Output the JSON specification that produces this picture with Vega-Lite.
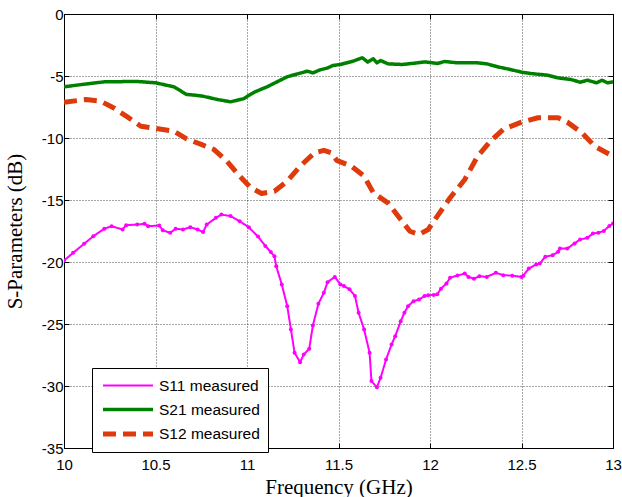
{
  "$schema": "https://vega.github.io/schema/vega-lite/v6.json",
  "autosize": {"type": "none"},
  "width": 549,
  "height": 434,
  "padding": {"left": 64, "top": 14, "right": 9, "bottom": 49},
  "background": "white",
  "config": {
    "view": {"stroke": "black", "strokeWidth": 1},
    "axis": {
      "domain": false,
      "grid": true,
      "gridColor": "#000000",
      "gridOpacity": 0.7,
      "gridDash": [1, 2],
      "gridWidth": 1,
      "ticks": true,
      "tickColor": "black",
      "tickSize": -5,
      "labelFont": "Liberation Sans",
      "labelFontSize": 15,
      "labelColor": "black",
      "labelFlush": false,
      "labelOverlap": false,
      "titleFont": "Liberation Serif",
      "titleFontSize": 21,
      "titleFontWeight": "normal",
      "titleColor": "black"
    },
    "legend": {
      "orient": "none",
      "legendX": 28,
      "legendY": 354,
      "strokeColor": "black",
      "fillColor": "white",
      "padding": 8,
      "rowPadding": 5,
      "symbolType": "M-3,0H3",
      "symbolSize": 278,
      "symbolOffset": 17,
      "labelOffset": 20,
      "labelFont": "Liberation Sans",
      "labelFontSize": 15.5,
      "labelColor": "black",
      "title": null
    }
  },
  "data": {
    "values": [
      {"f": 10.00, "db": -19.88, "s": "S11 measured"},
      {"f": 10.05, "db": -19.26, "s": "S11 measured"},
      {"f": 10.11, "db": -18.53, "s": "S11 measured"},
      {"f": 10.16, "db": -17.92, "s": "S11 measured"},
      {"f": 10.22, "db": -17.32, "s": "S11 measured"},
      {"f": 10.26, "db": -17.11, "s": "S11 measured"},
      {"f": 10.32, "db": -17.38, "s": "S11 measured"},
      {"f": 10.34, "db": -17.03, "s": "S11 measured"},
      {"f": 10.40, "db": -16.98, "s": "S11 measured"},
      {"f": 10.44, "db": -16.92, "s": "S11 measured"},
      {"f": 10.46, "db": -17.11, "s": "S11 measured"},
      {"f": 10.52, "db": -17.06, "s": "S11 measured"},
      {"f": 10.54, "db": -17.44, "s": "S11 measured"},
      {"f": 10.58, "db": -17.65, "s": "S11 measured"},
      {"f": 10.61, "db": -17.32, "s": "S11 measured"},
      {"f": 10.65, "db": -17.38, "s": "S11 measured"},
      {"f": 10.69, "db": -17.19, "s": "S11 measured"},
      {"f": 10.73, "db": -17.38, "s": "S11 measured"},
      {"f": 10.76, "db": -17.59, "s": "S11 measured"},
      {"f": 10.78, "db": -16.98, "s": "S11 measured"},
      {"f": 10.83, "db": -16.44, "s": "S11 measured"},
      {"f": 10.86, "db": -16.17, "s": "S11 measured"},
      {"f": 10.91, "db": -16.30, "s": "S11 measured"},
      {"f": 10.96, "db": -16.72, "s": "S11 measured"},
      {"f": 11.01, "db": -17.20, "s": "S11 measured"},
      {"f": 11.06, "db": -17.95, "s": "S11 measured"},
      {"f": 11.10, "db": -18.70, "s": "S11 measured"},
      {"f": 11.13, "db": -19.20, "s": "S11 measured"},
      {"f": 11.15, "db": -19.54, "s": "S11 measured"},
      {"f": 11.16, "db": -20.35, "s": "S11 measured"},
      {"f": 11.19, "db": -21.81, "s": "S11 measured"},
      {"f": 11.22, "db": -23.56, "s": "S11 measured"},
      {"f": 11.24, "db": -25.44, "s": "S11 measured"},
      {"f": 11.26, "db": -27.32, "s": "S11 measured"},
      {"f": 11.29, "db": -28.08, "s": "S11 measured"},
      {"f": 11.31, "db": -27.46, "s": "S11 measured"},
      {"f": 11.34, "db": -27.00, "s": "S11 measured"},
      {"f": 11.36, "db": -25.12, "s": "S11 measured"},
      {"f": 11.39, "db": -23.37, "s": "S11 measured"},
      {"f": 11.42, "db": -22.48, "s": "S11 measured"},
      {"f": 11.44, "db": -21.63, "s": "S11 measured"},
      {"f": 11.48, "db": -21.20, "s": "S11 measured"},
      {"f": 11.51, "db": -21.81, "s": "S11 measured"},
      {"f": 11.53, "db": -21.94, "s": "S11 measured"},
      {"f": 11.56, "db": -22.20, "s": "S11 measured"},
      {"f": 11.59, "db": -22.74, "s": "S11 measured"},
      {"f": 11.61, "db": -24.10, "s": "S11 measured"},
      {"f": 11.64, "db": -25.44, "s": "S11 measured"},
      {"f": 11.67, "db": -27.32, "s": "S11 measured"},
      {"f": 11.68, "db": -29.60, "s": "S11 measured"},
      {"f": 11.71, "db": -30.10, "s": "S11 measured"},
      {"f": 11.73, "db": -29.34, "s": "S11 measured"},
      {"f": 11.76, "db": -27.86, "s": "S11 measured"},
      {"f": 11.79, "db": -26.65, "s": "S11 measured"},
      {"f": 11.81, "db": -25.98, "s": "S11 measured"},
      {"f": 11.84, "db": -24.77, "s": "S11 measured"},
      {"f": 11.86, "db": -24.10, "s": "S11 measured"},
      {"f": 11.88, "db": -23.56, "s": "S11 measured"},
      {"f": 11.91, "db": -23.16, "s": "S11 measured"},
      {"f": 11.94, "db": -23.02, "s": "S11 measured"},
      {"f": 11.97, "db": -22.74, "s": "S11 measured"},
      {"f": 11.99, "db": -22.68, "s": "S11 measured"},
      {"f": 12.02, "db": -22.66, "s": "S11 measured"},
      {"f": 12.04, "db": -22.60, "s": "S11 measured"},
      {"f": 12.06, "db": -22.15, "s": "S11 measured"},
      {"f": 12.09, "db": -21.73, "s": "S11 measured"},
      {"f": 12.11, "db": -21.27, "s": "S11 measured"},
      {"f": 12.15, "db": -21.09, "s": "S11 measured"},
      {"f": 12.19, "db": -20.93, "s": "S11 measured"},
      {"f": 12.21, "db": -21.20, "s": "S11 measured"},
      {"f": 12.24, "db": -21.35, "s": "S11 measured"},
      {"f": 12.27, "db": -21.14, "s": "S11 measured"},
      {"f": 12.31, "db": -21.20, "s": "S11 measured"},
      {"f": 12.36, "db": -20.87, "s": "S11 measured"},
      {"f": 12.40, "db": -21.06, "s": "S11 measured"},
      {"f": 12.45, "db": -21.10, "s": "S11 measured"},
      {"f": 12.50, "db": -21.20, "s": "S11 measured"},
      {"f": 12.51, "db": -21.10, "s": "S11 measured"},
      {"f": 12.54, "db": -20.52, "s": "S11 measured"},
      {"f": 12.58, "db": -20.20, "s": "S11 measured"},
      {"f": 12.60, "db": -20.12, "s": "S11 measured"},
      {"f": 12.63, "db": -19.58, "s": "S11 measured"},
      {"f": 12.67, "db": -19.45, "s": "S11 measured"},
      {"f": 12.70, "db": -19.18, "s": "S11 measured"},
      {"f": 12.71, "db": -18.91, "s": "S11 measured"},
      {"f": 12.75, "db": -18.91, "s": "S11 measured"},
      {"f": 12.79, "db": -18.50, "s": "S11 measured"},
      {"f": 12.82, "db": -18.19, "s": "S11 measured"},
      {"f": 12.86, "db": -18.05, "s": "S11 measured"},
      {"f": 12.89, "db": -17.70, "s": "S11 measured"},
      {"f": 12.92, "db": -17.65, "s": "S11 measured"},
      {"f": 12.95, "db": -17.49, "s": "S11 measured"},
      {"f": 12.98, "db": -17.09, "s": "S11 measured"},
      {"f": 13.00, "db": -16.90, "s": "S11 measured"},

      {"f": 10.00, "db": -5.87, "s": "S21 measured"},
      {"f": 10.10, "db": -5.68, "s": "S21 measured"},
      {"f": 10.22, "db": -5.47, "s": "S21 measured"},
      {"f": 10.40, "db": -5.44, "s": "S21 measured"},
      {"f": 10.50, "db": -5.55, "s": "S21 measured"},
      {"f": 10.60, "db": -5.87, "s": "S21 measured"},
      {"f": 10.67, "db": -6.49, "s": "S21 measured"},
      {"f": 10.72, "db": -6.55, "s": "S21 measured"},
      {"f": 10.76, "db": -6.63, "s": "S21 measured"},
      {"f": 10.84, "db": -6.90, "s": "S21 measured"},
      {"f": 10.91, "db": -7.08, "s": "S21 measured"},
      {"f": 10.98, "db": -6.84, "s": "S21 measured"},
      {"f": 11.04, "db": -6.30, "s": "S21 measured"},
      {"f": 11.11, "db": -5.87, "s": "S21 measured"},
      {"f": 11.22, "db": -5.06, "s": "S21 measured"},
      {"f": 11.33, "db": -4.61, "s": "S21 measured"},
      {"f": 11.36, "db": -4.75, "s": "S21 measured"},
      {"f": 11.40, "db": -4.50, "s": "S21 measured"},
      {"f": 11.44, "db": -4.35, "s": "S21 measured"},
      {"f": 11.47, "db": -4.15, "s": "S21 measured"},
      {"f": 11.51, "db": -4.07, "s": "S21 measured"},
      {"f": 11.58, "db": -3.80, "s": "S21 measured"},
      {"f": 11.63, "db": -3.53, "s": "S21 measured"},
      {"f": 11.66, "db": -3.88, "s": "S21 measured"},
      {"f": 11.69, "db": -3.61, "s": "S21 measured"},
      {"f": 11.71, "db": -3.94, "s": "S21 measured"},
      {"f": 11.73, "db": -3.75, "s": "S21 measured"},
      {"f": 11.77, "db": -4.02, "s": "S21 measured"},
      {"f": 11.85, "db": -4.07, "s": "S21 measured"},
      {"f": 11.93, "db": -3.94, "s": "S21 measured"},
      {"f": 11.97, "db": -3.86, "s": "S21 measured"},
      {"f": 12.04, "db": -3.99, "s": "S21 measured"},
      {"f": 12.08, "db": -3.83, "s": "S21 measured"},
      {"f": 12.15, "db": -3.94, "s": "S21 measured"},
      {"f": 12.26, "db": -3.94, "s": "S21 measured"},
      {"f": 12.31, "db": -4.02, "s": "S21 measured"},
      {"f": 12.37, "db": -4.26, "s": "S21 measured"},
      {"f": 12.44, "db": -4.48, "s": "S21 measured"},
      {"f": 12.50, "db": -4.69, "s": "S21 measured"},
      {"f": 12.55, "db": -4.80, "s": "S21 measured"},
      {"f": 12.64, "db": -4.93, "s": "S21 measured"},
      {"f": 12.70, "db": -5.15, "s": "S21 measured"},
      {"f": 12.77, "db": -5.28, "s": "S21 measured"},
      {"f": 12.82, "db": -5.50, "s": "S21 measured"},
      {"f": 12.86, "db": -5.34, "s": "S21 measured"},
      {"f": 12.91, "db": -5.55, "s": "S21 measured"},
      {"f": 12.94, "db": -5.34, "s": "S21 measured"},
      {"f": 12.97, "db": -5.55, "s": "S21 measured"},
      {"f": 13.00, "db": -5.47, "s": "S21 measured"},

      {"f": 10.00, "db": -7.11, "s": "S12 measured"},
      {"f": 10.12, "db": -6.90, "s": "S12 measured"},
      {"f": 10.20, "db": -7.03, "s": "S12 measured"},
      {"f": 10.27, "db": -7.56, "s": "S12 measured"},
      {"f": 10.34, "db": -8.24, "s": "S12 measured"},
      {"f": 10.42, "db": -9.05, "s": "S12 measured"},
      {"f": 10.50, "db": -9.23, "s": "S12 measured"},
      {"f": 10.60, "db": -9.45, "s": "S12 measured"},
      {"f": 10.67, "db": -10.07, "s": "S12 measured"},
      {"f": 10.75, "db": -10.52, "s": "S12 measured"},
      {"f": 10.82, "db": -10.93, "s": "S12 measured"},
      {"f": 10.89, "db": -11.87, "s": "S12 measured"},
      {"f": 10.96, "db": -13.08, "s": "S12 measured"},
      {"f": 11.02, "db": -14.00, "s": "S12 measured"},
      {"f": 11.08, "db": -14.48, "s": "S12 measured"},
      {"f": 11.15, "db": -14.29, "s": "S12 measured"},
      {"f": 11.22, "db": -13.48, "s": "S12 measured"},
      {"f": 11.29, "db": -12.27, "s": "S12 measured"},
      {"f": 11.37, "db": -11.19, "s": "S12 measured"},
      {"f": 11.42, "db": -11.00, "s": "S12 measured"},
      {"f": 11.46, "db": -11.19, "s": "S12 measured"},
      {"f": 11.49, "db": -11.80, "s": "S12 measured"},
      {"f": 11.57, "db": -12.27, "s": "S12 measured"},
      {"f": 11.64, "db": -13.08, "s": "S12 measured"},
      {"f": 11.69, "db": -14.42, "s": "S12 measured"},
      {"f": 11.77, "db": -15.23, "s": "S12 measured"},
      {"f": 11.84, "db": -16.57, "s": "S12 measured"},
      {"f": 11.89, "db": -17.52, "s": "S12 measured"},
      {"f": 11.94, "db": -17.78, "s": "S12 measured"},
      {"f": 11.99, "db": -17.38, "s": "S12 measured"},
      {"f": 12.04, "db": -16.30, "s": "S12 measured"},
      {"f": 12.11, "db": -14.82, "s": "S12 measured"},
      {"f": 12.19, "db": -13.35, "s": "S12 measured"},
      {"f": 12.26, "db": -11.47, "s": "S12 measured"},
      {"f": 12.33, "db": -10.26, "s": "S12 measured"},
      {"f": 12.40, "db": -9.31, "s": "S12 measured"},
      {"f": 12.50, "db": -8.72, "s": "S12 measured"},
      {"f": 12.59, "db": -8.37, "s": "S12 measured"},
      {"f": 12.70, "db": -8.37, "s": "S12 measured"},
      {"f": 12.75, "db": -8.72, "s": "S12 measured"},
      {"f": 12.83, "db": -9.58, "s": "S12 measured"},
      {"f": 12.90, "db": -10.66, "s": "S12 measured"},
      {"f": 13.00, "db": -11.47, "s": "S12 measured"}
    ]
  },
  "layer": [
    {
      "mark": {"type": "line", "clip": true, "strokeCap": "butt", "strokeJoin": "round"},
      "encoding": {
        "x": {
          "field": "f", "type": "quantitative",
          "scale": {"domain": [10, 13], "nice": false},
          "axis": {
            "values": [10, 10.5, 11, 11.5, 12, 12.5, 13],
            "labelExpr": "'' + datum.value",
            "labelPadding": 14,
            "title": "Frequency (GHz)",
            "titlePadding": 4
          }
        },
        "y": {
          "field": "db", "type": "quantitative",
          "scale": {"domain": [-35, 0], "nice": false},
          "axis": {
            "values": [0, -5, -10, -15, -20, -25, -30, -35],
            "labelExpr": "'' + datum.value",
            "labelPadding": 6,
            "title": "S-Parameters (dB)",
            "titlePadding": 16
          }
        },
        "order": {"field": "f", "type": "quantitative"},
        "color": {
          "field": "s", "type": "nominal",
          "scale": {
            "domain": ["S11 measured", "S21 measured", "S12 measured"],
            "range": ["#ff00ff", "#008000", "#de3a0c"]
          }
        },
        "strokeDash": {
          "field": "s", "type": "nominal",
          "scale": {
            "domain": ["S11 measured", "S21 measured", "S12 measured"],
            "range": [[1, 0], [1, 0], [13, 7]]
          }
        },
        "strokeWidth": {
          "field": "s", "type": "nominal",
          "scale": {
            "domain": ["S11 measured", "S21 measured", "S12 measured"],
            "range": [2, 5, 5]
          }
        }
      }
    },
    {
      "transform": [{"filter": "datum.s === 'S11 measured'"}],
      "mark": {"type": "point", "filled": true, "opacity": 1, "size": 16, "color": "#ff00ff", "clip": true},
      "encoding": {
        "x": {
          "field": "f", "type": "quantitative",
          "axis": {"orient": "top", "labels": false, "title": null, "grid": false, "values": [10, 10.5, 11, 11.5, 12, 12.5, 13]}
        },
        "y": {
          "field": "db", "type": "quantitative",
          "axis": {"orient": "right", "labels": false, "title": null, "grid": false, "values": [0, -5, -10, -15, -20, -25, -30, -35]}
        }
      }
    }
  ],
  "resolve": {"axis": {"x": "independent", "y": "independent"}}
}
